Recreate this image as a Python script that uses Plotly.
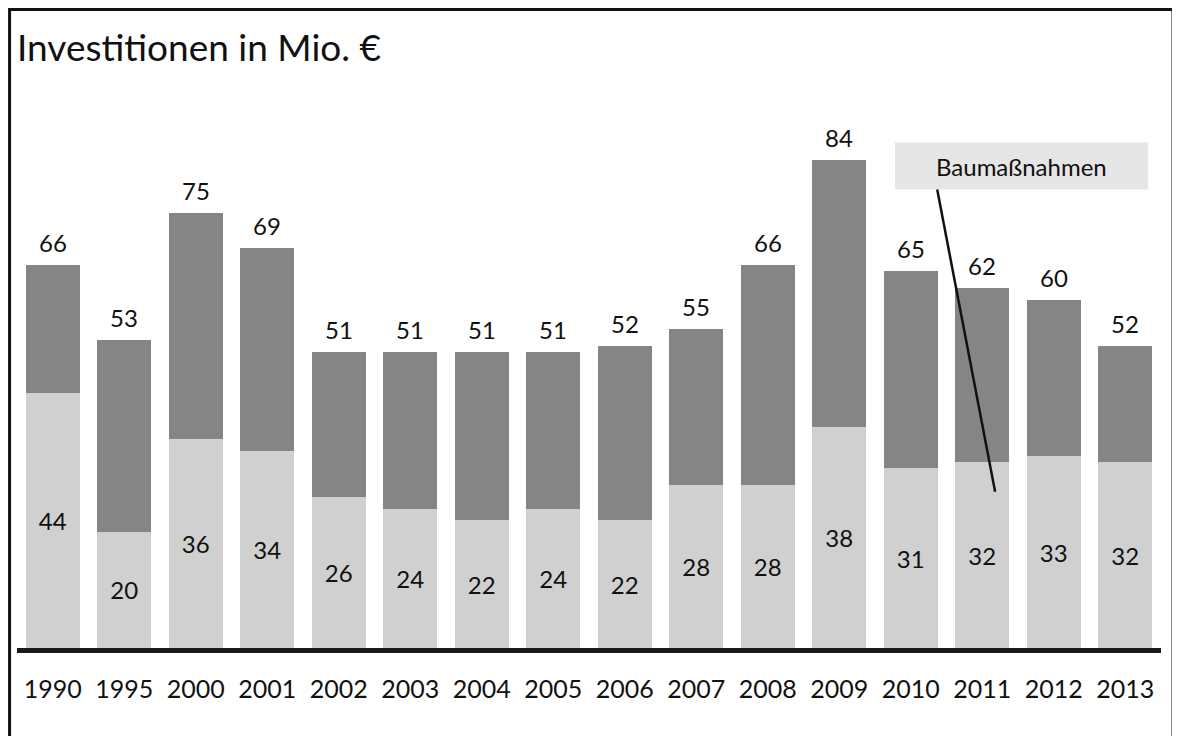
import plotly.graph_objects as go

years = ["1990", "1995", "2000", "2001", "2002", "2003", "2004", "2005",
         "2006", "2007", "2008", "2009", "2010", "2011", "2012", "2013"]
totals = [66, 53, 75, 69, 51, 51, 51, 51, 52, 55, 66, 84, 65, 62, 60, 52]
baumassnahmen = [44, 20, 36, 34, 26, 24, 22, 24, 22, 28, 28, 38, 31, 32, 33, 32]
sonstige = [t - b for t, b in zip(totals, baumassnahmen)]

pos = list(range(len(years)))

FONT = "Lato"
LIGHT = "#d0d0d0"
DARK = "#858585"
FS = 24

fig = go.Figure()
fig.add_trace(go.Bar(
    x=pos, y=baumassnahmen, marker=dict(color=LIGHT, line=dict(width=0)),
    text=[str(v) for v in baumassnahmen], textposition="inside",
    insidetextanchor="middle", textangle=0, constraintext="none",
    textfont=dict(family=FONT, size=FS, color="#111111"),
    name="Baumaßnahmen", hoverinfo="skip"))
fig.add_trace(go.Bar(
    x=pos, y=sonstige, marker=dict(color=DARK, line=dict(width=0)),
    name="Sonstige", hoverinfo="skip"))

for p, t in zip(pos, totals):
    fig.add_annotation(x=p, y=t, text=str(t), showarrow=False,
                       yanchor="bottom", yshift=6,
                       font=dict(family=FONT, size=FS, color="#111111"))

# title
fig.add_annotation(xref="paper", yref="paper", x=-0.002, y=1.127,
                   xanchor="left", yanchor="middle",
                   text="Investitionen in Mio. €", showarrow=False,
                   font=dict(family=FONT, size=37, color="#111111"))

# callout box and pointer
fig.add_shape(type="rect", xref="x", yref="y", x0=11.78, x1=15.32, y0=79.0, y1=87.1,
              fillcolor="#e6e6e6", line=dict(width=0), layer="below")
fig.add_annotation(x=13.55, y=83.0, xref="x", yref="y", text="Baumaßnahmen",
                   showarrow=False, font=dict(family=FONT, size=FS, color="#111111"))
fig.add_shape(type="line", xref="x", yref="y", x0=12.37, y0=79.0, x1=13.18, y1=26.9,
              line=dict(color="#111111", width=2.5))

# frame
fig.add_shape(type="rect", xref="paper", yref="paper", x0=-0.0065, x1=1.0105,
              y0=-0.3, y1=1.1957, line=dict(color="#111111", width=3))

fig.update_layout(
    barmode="stack", bargap=0.24, showlegend=False,
    width=1172, height=728,
    margin=dict(l=9, r=19, t=106, b=88, autoexpand=False),
    paper_bgcolor="white", plot_bgcolor="white",
    xaxis=dict(range=[-0.5, len(years) - 0.5], tickmode="array",
               tickvals=pos, ticktext=years, automargin=False,
               showline=True, linewidth=5, linecolor="#1a1a1a",
               ticks="", tickfont=dict(family=FONT, size=FS + 1, color="#111111"),
               ticklabelstandoff=15, showgrid=False, zeroline=False),
    yaxis=dict(range=[0, 92], visible=False, showgrid=False, zeroline=False,
               automargin=False),
)
fig.write_html("out.html")
